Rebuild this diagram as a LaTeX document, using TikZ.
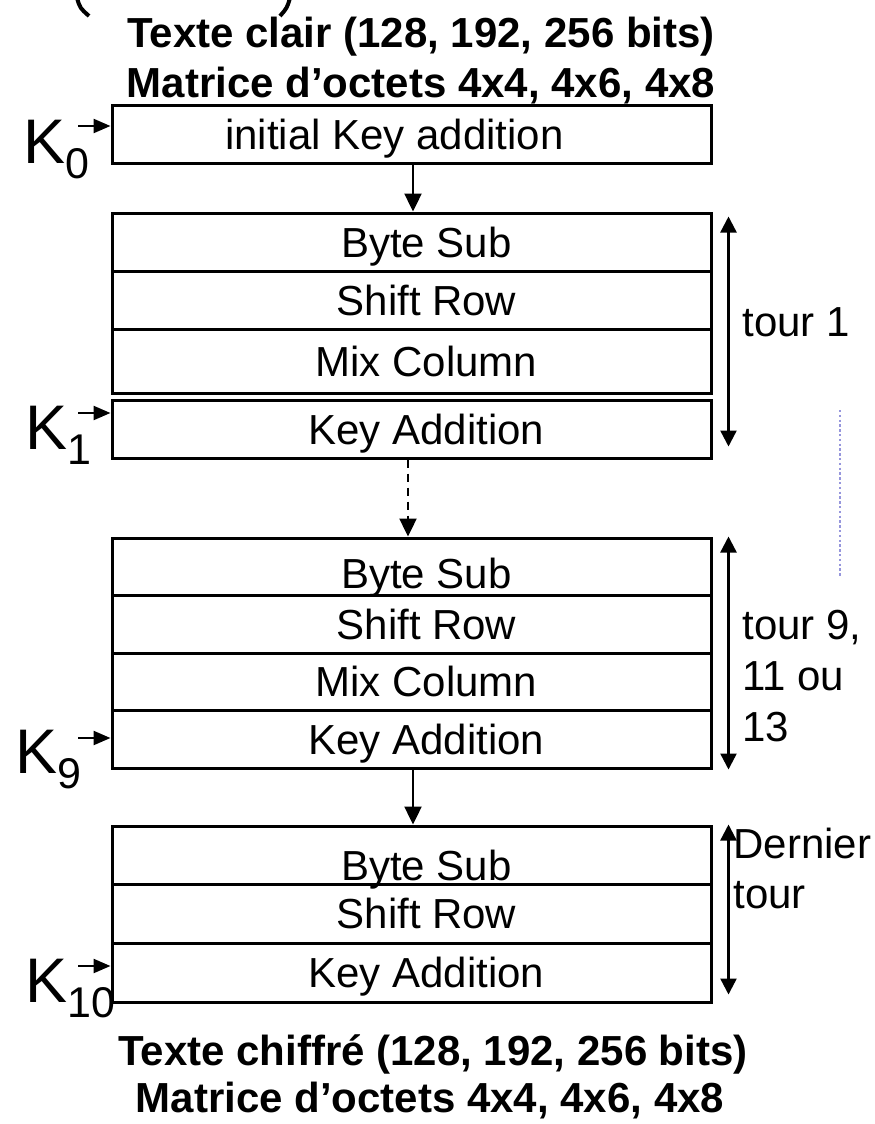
\documentclass[tikz,border=0pt]{standalone}
\usepackage{fontspec}
\setmainfont{Liberation Sans}
\usetikzlibrary{arrows.meta}
\newcommand\rowf{\fontsize{21pt}{25pt}\selectfont}
\newcommand\keyf{\fontsize{31.5pt}{36pt}\selectfont}
\newcommand\subf{\fontsize{21.5pt}{25pt}\selectfont}
\newcommand\titf{\fontsize{21pt}{25pt}\selectfont\bfseries}
\newcommand\kk[1]{\keyf K\raisebox{-7.5pt}{\subf #1}}
\definecolor{dotblue}{RGB}{150,150,220}
\tikzset{
  rowbox/.style={draw, line width=1.5pt, minimum width=299.5pt, inner sep=0pt,
    font=\rowf, text height=15pt, text depth=0pt},
  arr/.style={line width=1.2pt, -{Triangle[length=9pt,width=8.5pt]}},
  karr/.style={line width=1.2pt, -{Triangle[length=8.5pt,width=7pt]}},
  darr/.style={line width=1.2pt, {Triangle[length=8pt,width=8pt]}-{Triangle[length=8pt,width=8pt]}},
  side/.style={font=\rowf, anchor=west, align=left, inner sep=0pt},
  keylab/.style={anchor=base west, inner sep=0pt},
  title/.style={font=\titf, anchor=base, inner sep=0pt}
}
\begin{document}
\begin{tikzpicture}[x=0.5pt,y=-0.5pt]
\useasboundingbox (0,0) rectangle (874,1124);
% fragments of cut-off parentheses
\draw[line width=2pt] (77,-2) .. controls (80,8) .. (89,16);
\draw[line width=2pt] (290,-2) .. controls (287,8) .. (280,16);
% titles
\node[title] (t1) at (421,47) {Texte clair (128, 192, 256 bits)};
\node[title] (t2) at (421,97) {Matrice d’octets 4x4, 4x6, 4x8};
\node[title] (t3) at (433,1065) {Texte chiffré (128, 192, 256 bits)};
\node[title] (t4) at (430,1112) {Matrice d’octets 4x4, 4x6, 4x8};
% initial row
\node[rowbox, minimum height=29pt] (r0) at (411.5,134) {initial Key addition\hspace*{17pt}};
% block 1
\node[rowbox, minimum height=29pt] (b1s) at (411.5,242) {\hspace*{15pt}Byte Sub};
\node[rowbox, minimum height=29pt] (b1r) at (411.5,300) {\hspace*{15pt}Shift Row};
\node[rowbox, minimum height=32pt] (b1m) at (411.5,361) {\hspace*{15pt}Mix Column};
\node[rowbox, minimum height=29pt] (b1k) at (411.5,429) {\hspace*{15pt}Key Addition};
% block 2
\node[rowbox, minimum height=28.5pt, text height=22pt] (b2s) at (411.5,566.5) {\hspace*{15pt}Byte Sub};
\node[rowbox, minimum height=29pt] (b2r) at (411.5,624) {\hspace*{15pt}Shift Row};
\node[rowbox, minimum height=28.5pt] (b2m) at (411.5,681.5) {\hspace*{15pt}Mix Column};
\node[rowbox, minimum height=29pt] (b2k) at (411.5,739) {\hspace*{15pt}Key Addition};
% block 3
\node[rowbox, minimum height=29pt, text height=25pt] (b3s) at (411.5,855) {\hspace*{15pt}Byte Sub};
\node[rowbox, minimum height=29.5pt] (b3r) at (411.5,913.5) {\hspace*{15pt}Shift Row};
\node[rowbox, minimum height=29.5pt] (b3k) at (411.5,972.5) {\hspace*{15pt}Key Addition};
% flow arrows
\draw[arr] ([xshift=0.75pt]r0.south) -- ([xshift=0.75pt]b1s.north);
\draw[arr, dash pattern=on 4pt off 3pt] ([xshift=-1.75pt]b1k.south) -- ([xshift=-1.75pt]b2s.north);
\draw[arr] ([xshift=0.75pt]b2k.south) -- ([xshift=0.75pt]b3s.north);
% keys
\coordinate (k0s) at (78,126);
\coordinate (k1s) at (78,413);
\coordinate (k9s) at (78,738);
\coordinate (k10s) at (78,966);
\node[keylab] (k0) at (23,163) {\kk{0}};
\node[keylab] (k1) at (25,449) {\kk{1}};
\node[keylab] (k9) at (15,773) {\kk{9}};
\node[keylab] (k10) at (25,1002) {\kk{10}};
\draw[karr] (k0s) -- (r0.west |- k0s);
\draw[karr] (k1s) -- (b1k.west |- k1s);
\draw[karr] (k9s) -- (b2k.west |- k9s);
\draw[karr] (k10s) -- (b3k.west |- k10s);
% round brackets
\draw[darr] ([xshift=8pt,yshift=-2.5pt]b1s.north east) -- ([xshift=8pt,yshift=6.5pt]b1k.south east);
\draw[darr] ([xshift=8pt]b2s.north east) -- ([xshift=8pt]b2k.south east);
\draw[darr] ([xshift=8pt]b3s.north east) -- ([xshift=8pt,yshift=4.5pt]b3k.south east);
\node[side] (l1) at (742,322) {tour 1};
\node[side, font=\fontsize{21pt}{25.5pt}\selectfont] (l2) at (742,676) {tour 9,\\11 ou\\13};
\node[side, font=\fontsize{21pt}{25pt}\selectfont] (l3) at (733,868) {Dernier\\tour};
% dotted line
\draw[dotblue, line width=1.2pt, dash pattern=on 1.2pt off 1.2pt] (840,410) -- (840,577);
\end{tikzpicture}
\end{document}
